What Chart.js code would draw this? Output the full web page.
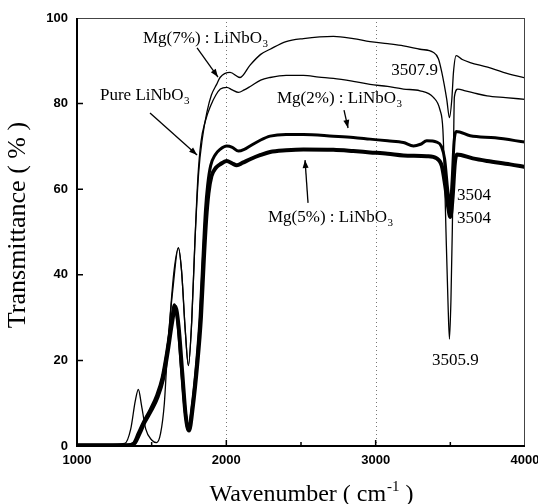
<!DOCTYPE html>
<html>
<head>
<meta charset="utf-8">
<script src="https://cdn.jsdelivr.net/npm/chart.js@4.4.1/dist/chart.umd.min.js"></script>
<style>
  html, body { margin: 0; padding: 0; background: #fff; }
  canvas { display: block; }
</style>
</head>
<body>
<canvas id="ftir" width="538" height="504"></canvas>
<script>
// wavenumber (cm-1) / transmittance (%)
const pureWn = [1000, 1200, 1320, 1360, 1390, 1411, 1432, 1460, 1500, 1533, 1560, 1585, 1600, 1625, 1650, 1679, 1700, 1725, 1746, 1768, 1790, 1810, 1830, 1860, 1895, 1930, 1960, 2003, 2040, 2081, 2120, 2160, 2230, 2293, 2400, 2516, 2620, 2717, 2850, 2962, 3080, 3186, 3297, 3385, 3431, 3450, 3462, 3471, 3484, 3494, 3504, 3513, 3520, 3527, 3550, 3600, 3680, 3746, 3870, 4000];
const pureT = [0.3, 0.3, 0.6, 4, 10.5, 13.2, 9.5, 4, 1.4, 0.8, 3, 10, 18.6, 31, 41, 46.3, 41, 27, 18.8, 29, 48, 63, 71, 76, 79.5, 82, 83.4, 83.8, 83.2, 82.6, 83.2, 84, 85.5, 86.1, 86.6, 86.6, 86.2, 85.9, 85.2, 84.5, 84, 83.4, 83, 81.5, 78.5, 74, 62, 50, 34, 25, 34, 50, 66, 81.5, 83.4, 83, 82.3, 81.8, 81.4, 81];

const mg7Wn = [1000, 1300, 1380, 1445, 1533, 1600, 1640, 1679, 1700, 1725, 1746, 1768, 1790, 1815, 1840, 1870, 1900, 1935, 1958, 2025, 2092, 2159, 2230, 2293, 2400, 2516, 2717, 2850, 2962, 3080, 3186, 3297, 3385, 3420, 3443, 3476, 3494, 3510, 3521, 3539, 3580, 3633, 3750, 3855, 4000];
const mg7T = [0.3, 0.3, 0.6, 5.4, 11.6, 22, 36, 46.3, 41, 27, 18.8, 29, 48, 64, 72, 78, 82, 84.5, 86.1, 87.3, 86.1, 89, 91.5, 92.7, 94.5, 95.2, 95.7, 95.2, 94.5, 94, 93.5, 92.7, 92, 90.5, 87.3, 81, 76.7, 81, 87.3, 91.2, 90.3, 89.6, 88.5, 87.3, 86];

const mg2Wn = [1000, 1340, 1377, 1410, 1445, 1490, 1533, 1570, 1600, 1630, 1652, 1675, 1700, 1725, 1746, 1770, 1800, 1824, 1845, 1860, 1875, 1895, 1925, 1958, 2003, 2040, 2081, 2120, 2159, 2230, 2293, 2400, 2516, 2717, 2850, 2962, 3080, 3186, 3253, 3300, 3342, 3409, 3440, 3462, 3482, 3498, 3512, 3525, 3540, 3633, 3800, 4000];
const mg2T = [0.2, 0.2, 0.6, 3, 5.6, 8.5, 11.8, 16, 21.8, 28.5, 33, 29, 18, 8, 3.8, 9, 19, 30, 45, 55, 61, 65.5, 68, 69.3, 70.1, 69.8, 68.9, 69.3, 70.1, 71.5, 72.4, 72.8, 72.8, 72.4, 72.1, 71.7, 71.3, 70.9, 70.1, 70.5, 71.3, 71, 70, 67, 60, 56, 62, 71, 73.5, 72.5, 72, 71];

const mg5Wn = [1000, 1350, 1385, 1420, 1450, 1495, 1540, 1575, 1605, 1635, 1658, 1680, 1705, 1728, 1750, 1775, 1805, 1830, 1850, 1865, 1880, 1900, 1930, 1958, 2003, 2040, 2070, 2110, 2159, 2230, 2293, 2400, 2516, 2717, 2850, 2962, 3080, 3186, 3342, 3409, 3443, 3465, 3485, 3500, 3515, 3530, 3543, 3650, 3746, 3900, 4000];
const mg5T = [0.2, 0.2, 0.6, 3, 5.4, 8.2, 11.5, 15.5, 21.5, 28.5, 32.6, 28, 17, 7, 3.6, 9, 19, 30, 44, 53, 59, 63, 65, 65.8, 66.6, 66, 65.6, 66.2, 67, 68, 68.7, 69.1, 69.3, 69.2, 68.9, 68.6, 68.3, 67.9, 67.7, 67.2, 65.4, 61, 56, 53.5, 58, 66, 68.1, 67.2, 66.6, 65.8, 65.2];

const xTicks = [1000, 2000, 3000, 4000];
const xMinorTicks = [1500, 2500, 3500];
const xGridLines = [2000, 3000];
const yTicks = [0, 20, 40, 60, 80, 100];

// text labels, arrows (from -> to), all in data coordinates
const notes = [
  { text: "Mg(7%) : LiNbO", sub: "3", wn: 1442, t: 94.2 },
  { text: "Pure LiNbO", sub: "3", wn: 1154, t: 80.8 },
  { text: "Mg(2%) : LiNbO", sub: "3", wn: 2339, t: 80.1 },
  { text: "Mg(5%) : LiNbO", sub: "3", wn: 2279, t: 52.3 },
  { text: "3507.9", wn: 3417, t: 86.7, align: "right" },
  { text: "3504", wn: 3545, t: 57.5 },
  { text: "3504", wn: 3545, t: 52.1 },
  { text: "3505.9", wn: 3377, t: 18.9 }
];
const arrows = [
  [1804, 93.0, 1944, 86.2],
  [1489, 77.8, 1804, 68.0],
  [2788, 78.5, 2815, 74.3],
  [2547, 56.8, 2527, 66.8]
];

const serif = '"Liberation Serif", "Times New Roman", serif';
const sans = '"Liberation Sans", Arial, sans-serif';

function pairs(xs, ys) {
  return xs.map((x, i) => ({ x: x, y: ys[i] }));
}

function series(label, xs, ys, width) {
  return {
    label: label,
    data: pairs(xs, ys),
    borderColor: "#000",
    borderWidth: width,
    pointRadius: 0,
    fill: false,
    cubicInterpolationMode: "monotone",
    borderJoinStyle: "round",
    borderCapStyle: "round"
  };
}

function drawSubText(ctx, main, sub, x, y, size) {
  ctx.font = size + "px " + serif;
  ctx.fillText(main, x, y);
  if (!sub) return;
  const w = ctx.measureText(main).width;
  ctx.font = Math.round(size * 0.62) + "px " + serif;
  ctx.fillText(sub, x + w + 0.5, y + size * 0.25);
}

function drawArrow(ctx, x1, y1, x2, y2) {
  ctx.beginPath();
  ctx.moveTo(x1, y1);
  ctx.lineTo(x2, y2);
  ctx.lineWidth = 1.3;
  ctx.stroke();
  const a = Math.atan2(y2 - y1, x2 - x1);
  const len = 8, half = 3;
  ctx.beginPath();
  ctx.moveTo(x2, y2);
  ctx.lineTo(x2 - len * Math.cos(a) + half * Math.sin(a), y2 - len * Math.sin(a) - half * Math.cos(a));
  ctx.lineTo(x2 - len * Math.cos(a) - half * Math.sin(a), y2 - len * Math.sin(a) + half * Math.cos(a));
  ctx.closePath();
  ctx.fill();
}

// dotted grid under the curves
const gridPlugin = {
  id: "grid",
  beforeDatasetsDraw(chart) {
    const { ctx, chartArea, scales } = chart;
    ctx.save();
    ctx.strokeStyle = "#777";
    ctx.lineWidth = 1;
    ctx.setLineDash([1, 3]);
    xGridLines.forEach(v => {
      const px = Math.round(scales.x.getPixelForValue(v)) + 0.5;
      ctx.beginPath();
      ctx.moveTo(px, chartArea.top);
      ctx.lineTo(px, chartArea.bottom);
      ctx.stroke();
    });
    ctx.restore();
  }
};

// frame, tick marks, tick labels, titles and notes
const framePlugin = {
  id: "frame",
  afterDatasetsDraw(chart) {
    const { ctx, chartArea, scales } = chart;
    const { left, right, top, bottom } = chartArea;
    ctx.save();
    ctx.strokeStyle = "#000";
    ctx.fillStyle = "#000";

    // top and right: thin
    ctx.lineWidth = 1;
    ctx.strokeStyle = "#444";
    ctx.beginPath();
    ctx.moveTo(left, top + 0.5);
    ctx.lineTo(right, top + 0.5);
    ctx.moveTo(right - 0.5, top);
    ctx.lineTo(right - 0.5, bottom);
    ctx.stroke();

    // left and bottom: heavy
    ctx.strokeStyle = "#000";
    ctx.lineWidth = 2;
    ctx.beginPath();
    ctx.moveTo(left, top);
    ctx.lineTo(left, bottom);
    ctx.lineTo(right, bottom);
    ctx.stroke();

    // tick marks, pointing inward
    ctx.lineWidth = 1.5;
    ctx.beginPath();
    yTicks.forEach(v => {
      if (v === 0 || v === 100) return;
      const py = scales.y.getPixelForValue(v);
      ctx.moveTo(left, py);
      ctx.lineTo(left + 6, py);
    });
    xTicks.concat(xMinorTicks).forEach(v => {
      if (v === 1000 || v === 4000) return;
      const px = scales.x.getPixelForValue(v);
      ctx.moveTo(px, bottom);
      ctx.lineTo(px, bottom - (xMinorTicks.includes(v) ? 4 : 6));
    });
    ctx.stroke();

    // tick labels
    ctx.font = "bold 13px " + sans;
    ctx.textAlign = "right";
    ctx.textBaseline = "middle";
    scales.y.ticks.forEach(t => {
      ctx.fillText(String(t.value), left - 9, scales.y.getPixelForValue(t.value));
    });
    ctx.textAlign = "center";
    ctx.textBaseline = "top";
    scales.x.ticks.forEach(t => {
      ctx.fillText(String(t.value), scales.x.getPixelForValue(t.value), bottom + 8);
    });

    // axis titles
    ctx.textBaseline = "alphabetic";
    ctx.font = "26px " + serif;
    ctx.save();
    ctx.translate(25, (top + bottom) / 2 - 7);
    ctx.rotate(-Math.PI / 2);
    ctx.textAlign = "center";
    ctx.fillText("Transmittance ( % )", 0, 0);
    ctx.restore();

    ctx.textAlign = "left";
    const xa = "Wavenumber ( cm", xb = "-1", xc = " )";
    ctx.font = "24px " + serif;
    const wa = ctx.measureText(xa).width;
    ctx.font = "15px " + serif;
    const wb = ctx.measureText(xb).width;
    ctx.font = "24px " + serif;
    const wc = ctx.measureText(xc).width;
    const tx = (left + right) / 2 + 10 - (wa + wb + wc) / 2;
    const ty = 501;
    ctx.fillText(xa, tx, ty);
    ctx.font = "15px " + serif;
    ctx.fillText(xb, tx + wa + 1, ty - 10);
    ctx.font = "24px " + serif;
    ctx.fillText(xc, tx + wa + wb + 1, ty);

    // labels
    notes.forEach(n => {
      const px = scales.x.getPixelForValue(n.wn);
      const py = scales.y.getPixelForValue(n.t);
      ctx.textAlign = "left";
      let x = px;
      if (n.align === "right") {
        ctx.font = "17px " + serif;
        x = px - ctx.measureText(n.text).width;
      }
      drawSubText(ctx, n.text, n.sub, x, py, 17);
    });

    arrows.forEach(a => {
      drawArrow(ctx,
        scales.x.getPixelForValue(a[0]), scales.y.getPixelForValue(a[1]),
        scales.x.getPixelForValue(a[2]), scales.y.getPixelForValue(a[3]));
    });

    ctx.restore();
  }
};

new Chart(document.getElementById("ftir"), {
  type: "line",
  data: {
    datasets: [
      series("Pure LiNbO3", pureWn, pureT, 1.3),
      series("Mg(7%) : LiNbO3", mg7Wn, mg7T, 1.3),
      series("Mg(2%) : LiNbO3", mg2Wn, mg2T, 3),
      series("Mg(5%) : LiNbO3", mg5Wn, mg5T, 4)
    ]
  },
  options: {
    responsive: false,
    animation: false,
    devicePixelRatio: 1,
    layout: { padding: { top: 18, right: 13, left: 0, bottom: 0 } },
    plugins: { legend: { display: false }, tooltip: { enabled: false } },
    scales: {
      x: {
        type: "linear",
        min: 1000,
        max: 4000,
        afterBuildTicks: s => { s.ticks = xTicks.map(v => ({ value: v })); },
        afterFit: s => { s.height = 58; },
        ticks: { display: false },
        grid: { display: false },
        border: { display: false }
      },
      y: {
        type: "linear",
        min: 0,
        max: 100,
        afterBuildTicks: s => { s.ticks = yTicks.map(v => ({ value: v })); },
        afterFit: s => { s.width = 77; },
        ticks: { display: false },
        grid: { display: false },
        border: { display: false }
      }
    }
  },
  plugins: [gridPlugin, framePlugin]
});
</script>
</body>
</html>
